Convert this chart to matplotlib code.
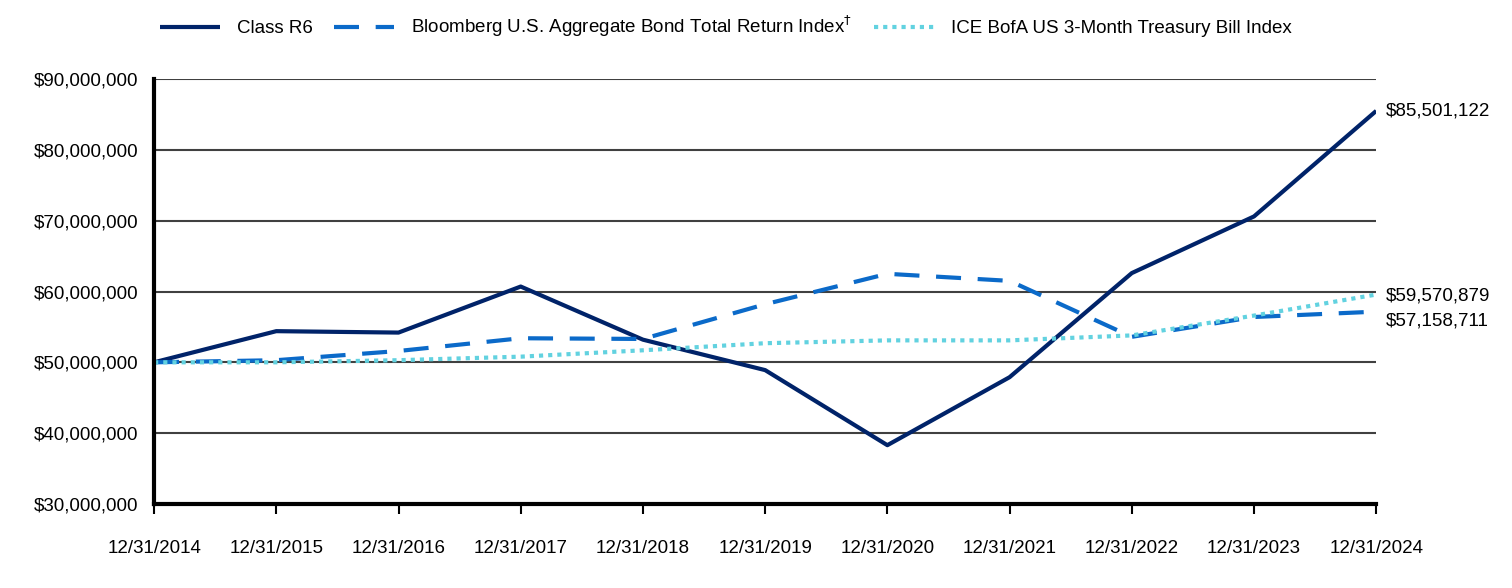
import matplotlib
matplotlib.use("Agg")
import matplotlib.pyplot as plt
from matplotlib.ticker import FuncFormatter

plt.rcParams['font.family'] = ['Liberation Sans', 'DejaVu Sans']

dates = ["12/31/2014", "12/31/2015", "12/31/2016", "12/31/2017", "12/31/2018", "12/31/2019",
         "12/31/2020", "12/31/2021", "12/31/2022", "12/31/2023", "12/31/2024"]
class_r6 = [50000000, 54400000, 54200000, 60700000, 53200000, 48900000,
            38300000, 47900000, 62600000, 70600000, 85501122]
bloomberg = [50000000, 50300000, 51600000, 53400000, 53300000, 58200000,
             62500000, 61500000, 53600000, 56400000, 57158711]
ice = [50000000, 50000000, 50300000, 50800000, 51700000, 52700000,
       53100000, 53100000, 53800000, 56600000, 59570879]
series_names = ["Class R6", "Bloomberg U.S. Aggregate Bond Total Return Index$^{\\dagger}$",
                "ICE BofA US 3-Month Treasury Bill Index"]
end_labels = ["$85,501,122", "$59,570,879", "$57,158,711"]

FS = 13.5
fig = plt.figure(figsize=(15.12, 5.88), dpi=100)
ax = fig.add_axes([0.1019, 0.1429, 0.8083, 0.7227])
x = list(range(len(dates)))

ax.plot(x, class_r6, color="#002369", lw=3, label=series_names[0], solid_capstyle="butt")
ax.plot(x, bloomberg, color="#0B6AC9", lw=3, ls=(0, (6, 4)), label=series_names[1])
ax.plot(x, ice, color="#62D2E0", lw=3, ls=(0, (1, 1.2)), label=series_names[2])

ax.set_xlim(0, 10)
ax.set_ylim(30000000, 90000000)
ax.set_yticks(range(30000000, 90000001, 10000000))
ax.yaxis.set_major_formatter(FuncFormatter(lambda v, p: "${:,.0f}".format(v)))
ax.set_xticks(x)
ax.set_xticklabels(dates)
ax.grid(axis='y', color="#404040", lw=1.5)
ax.set_axisbelow(True)
for s in ["top", "right"]:
    ax.spines[s].set_visible(False)
for s in ["left", "bottom"]:
    ax.spines[s].set_linewidth(3)
    ax.spines[s].set_color("black")
ax.tick_params(axis='y', length=0, pad=11, labelsize=FS)
ax.tick_params(axis='x', length=7, width=1.5, direction='out', pad=19, labelsize=FS)

tr = ax.get_yaxis_transform()
ax.text(1.008, 85501122, end_labels[0], transform=tr, va='center', ha='left', fontsize=FS)
ax.text(1.008, 59400000, end_labels[1], transform=tr, va='center', ha='left', fontsize=FS)
ax.text(1.008, 55850000, end_labels[2], transform=tr, va='center', ha='left', fontsize=FS)

fig.legend(loc='center left', bbox_to_anchor=(0.0947, 0.955), ncol=3, frameon=False, fontsize=FS,
           handlelength=3.2, columnspacing=1.15, handletextpad=0.9)

fig.savefig("out.png", dpi=100)
